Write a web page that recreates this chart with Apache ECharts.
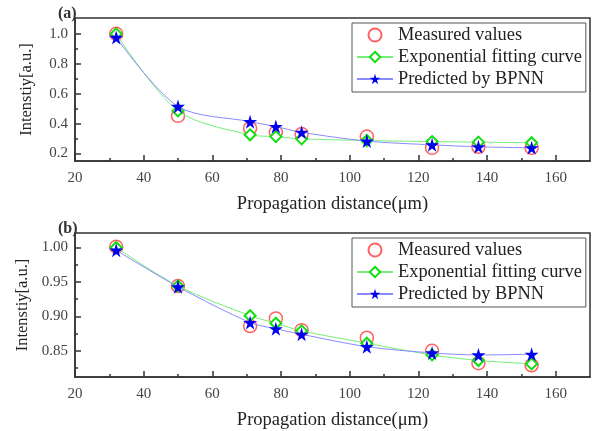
<!DOCTYPE html>
<html>
<head>
    <meta charset="UTF-8">
    <title>Intensity vs propagation distance</title>
    <script src="https://cdn.jsdelivr.net/npm/echarts@6/dist/echarts.min.js"></script>
    <style>body{margin:0;background:#fff;} #main{width:600px;height:431px;}</style>
</head>
<body>
<div id="main"></div>
<script>
    // distances (um)
    var distance = [32, 50, 71, 78.5, 86, 105, 124, 137.5, 153];

    // panel (a)
    var measuredA = [1.0, 0.452, 0.369, 0.342, 0.33, 0.313, 0.238, 0.245, 0.238];
    var fitA      = [1.0, 0.485, 0.325, 0.313, 0.298, 0.287, 0.28, 0.276, 0.272];
    var bpnnA     = [0.976, 0.515, 0.413, 0.38, 0.342, 0.283, 0.258, 0.245, 0.238];

    // panel (b)
    var measuredB = [1.001, 0.944, 0.886, 0.897, 0.880, 0.869, 0.850, 0.832, 0.829];
    var fitB      = [1.0, 0.944, 0.901, 0.890, 0.879, 0.861, 0.844, 0.836, 0.831];
    var bpnnB     = [0.996, 0.943, 0.891, 0.882, 0.874, 0.856, 0.847, 0.844, 0.845];

    var xTicks = [20, 40, 60, 80, 100, 120, 140, 160];
    var xMinor = [30, 50, 70, 90, 110, 130, 150];
    var yTicksA = [0.2, 0.4, 0.6, 0.8, 1.0];
    var yMinorA = [0.3, 0.5, 0.7, 0.9];
    var yTicksB = [0.85, 0.90, 0.95, 1.00];
    var yMinorB = [0.825, 0.875, 0.925, 0.975];

    var names = ['Measured values', 'Exponential fitting curve', 'Predicted by BPNN'];
    var serif = 'Liberation Serif';

    function pairs(ys) {
        return distance.map(function (d, i) { return [d, ys[i]]; });
    }

    var myChart = echarts.init(document.getElementById('main'));

    function mainX(grid, name) {
        return {
            type: 'value', gridIndex: grid, min: 20, max: 170,
            name: name, nameLocation: 'middle', nameGap: 34,
            nameTextStyle: {fontFamily: serif, fontSize: 18.5, color: '#222'},
            axisLine: {lineStyle: {color: '#333', width: 1.5}},
            axisTick: {inside: true, length: 6, customValues: xTicks, lineStyle: {color: '#333', width: 1.5}},
            axisLabel: {customValues: xTicks, fontFamily: serif, fontSize: 15, color: '#444', margin: 10},
            splitLine: {show: false}
        };
    }
    function minorX(grid) {
        return {
            type: 'value', gridIndex: grid, min: 20, max: 170, position: 'bottom',
            axisLine: {show: false},
            axisTick: {inside: true, length: 3, customValues: xMinor, lineStyle: {color: '#333', width: 1.5}},
            axisLabel: {show: false}, splitLine: {show: false}
        };
    }
    function mainY(grid, min, max, ticks, fmt) {
        return {
            type: 'value', gridIndex: grid, min: min, max: max,
            name: 'Intenstiy[a.u.]', nameLocation: 'middle', nameGap: 40,
            nameTextStyle: {fontFamily: serif, fontSize: 16.5, color: '#222'},
            axisLine: {show: true, lineStyle: {color: '#333', width: 1.5}},
            axisTick: {show: true, inside: true, length: 6, customValues: ticks, lineStyle: {color: '#333', width: 1.5}},
            axisLabel: {customValues: ticks, fontFamily: serif, fontSize: 15, color: '#444', margin: 7,
                formatter: function (v) { return v.toFixed(fmt); }},
            splitLine: {show: false}
        };
    }
    function minorY(grid, min, max, ticks) {
        return {
            type: 'value', gridIndex: grid, min: min, max: max, position: 'left',
            axisLine: {show: false},
            axisTick: {show: true, inside: true, length: 3, customValues: ticks, lineStyle: {color: '#333', width: 1.5}},
            axisLabel: {show: false}, splitLine: {show: false}
        };
    }

    function seriesFor(xi, yi, m, f, b) {
        return [
            {
                name: names[0], type: 'scatter', xAxisIndex: xi, yAxisIndex: yi,
                symbol: 'circle', symbolSize: 13,
                itemStyle: {color: 'rgba(0,0,0,0)', borderColor: '#ff3b3b', borderWidth: 1.5},
                data: pairs(m), z: 2
            },
            {
                name: names[1], type: 'line', xAxisIndex: xi, yAxisIndex: yi, smooth: 0.3,
                symbol: 'diamond', symbolSize: 11,
                lineStyle: {color: '#77ee77', width: 1},
                itemStyle: {color: '#fff', borderColor: '#11dd11', borderWidth: 2},
                data: pairs(f), z: 3
            },
            {
                name: names[2], type: 'line', xAxisIndex: xi, yAxisIndex: yi, smooth: 0.3,
                symbol: 'path://M50,0 L61,35 L98,35 L68,57 L79,91 L50,70 L21,91 L32,57 L2,35 L39,35 Z', symbolSize: 14,
                lineStyle: {color: '#8a8aff', width: 1},
                itemStyle: {color: '#0000ee', borderWidth: 0},
                data: pairs(b), z: 4
            }
        ];
    }

    function legendAt(top) {
        return {
            orient: 'vertical', left: 352, top: top, width: 231,
            padding: [3, 4, 4, 4], itemGap: 4, itemWidth: 36, itemHeight: 13,
            borderColor: '#555', borderWidth: 1, backgroundColor: '#fff',
            textStyle: {fontFamily: serif, fontSize: 18.4, color: '#222'},
            data: names, selectedMode: false
        };
    }

    var option = {
        animation: false,
        backgroundColor: '#fff',
        title: [
            {text: '(a)', left: 53, top: 1, textStyle: {fontFamily: serif, fontSize: 16, fontWeight: 'bold', color: '#333'}},
            {text: '(b)', left: 53, top: 216, textStyle: {fontFamily: serif, fontSize: 16, fontWeight: 'bold', color: '#333'}}
        ],
        legend: [legendAt(23), legendAt(238)],
        grid: [
            {left: 75, top: 18, width: 515, height: 143, show: true, borderColor: '#333', borderWidth: 1.5},
            {left: 75, top: 233, width: 515, height: 144, show: true, borderColor: '#333', borderWidth: 1.5}
        ],
        xAxis: [
            mainX(0, 'Propagation distance(\u03bcm)'), minorX(0),
            mainX(1, 'Propagation distance(\u03bcm)'), minorX(1)
        ],
        yAxis: [
            mainY(0, 0.15, 1.106, yTicksA, 1), minorY(0, 0.15, 1.106, yMinorA),
            mainY(1, 0.812, 1.021, yTicksB, 2), minorY(1, 0.812, 1.021, yMinorB)
        ],
        series: seriesFor(0, 0, measuredA, fitA, bpnnA).concat(seriesFor(2, 2, measuredB, fitB, bpnnB))
    };

    myChart.setOption(option);
</script>
</body>
</html>
